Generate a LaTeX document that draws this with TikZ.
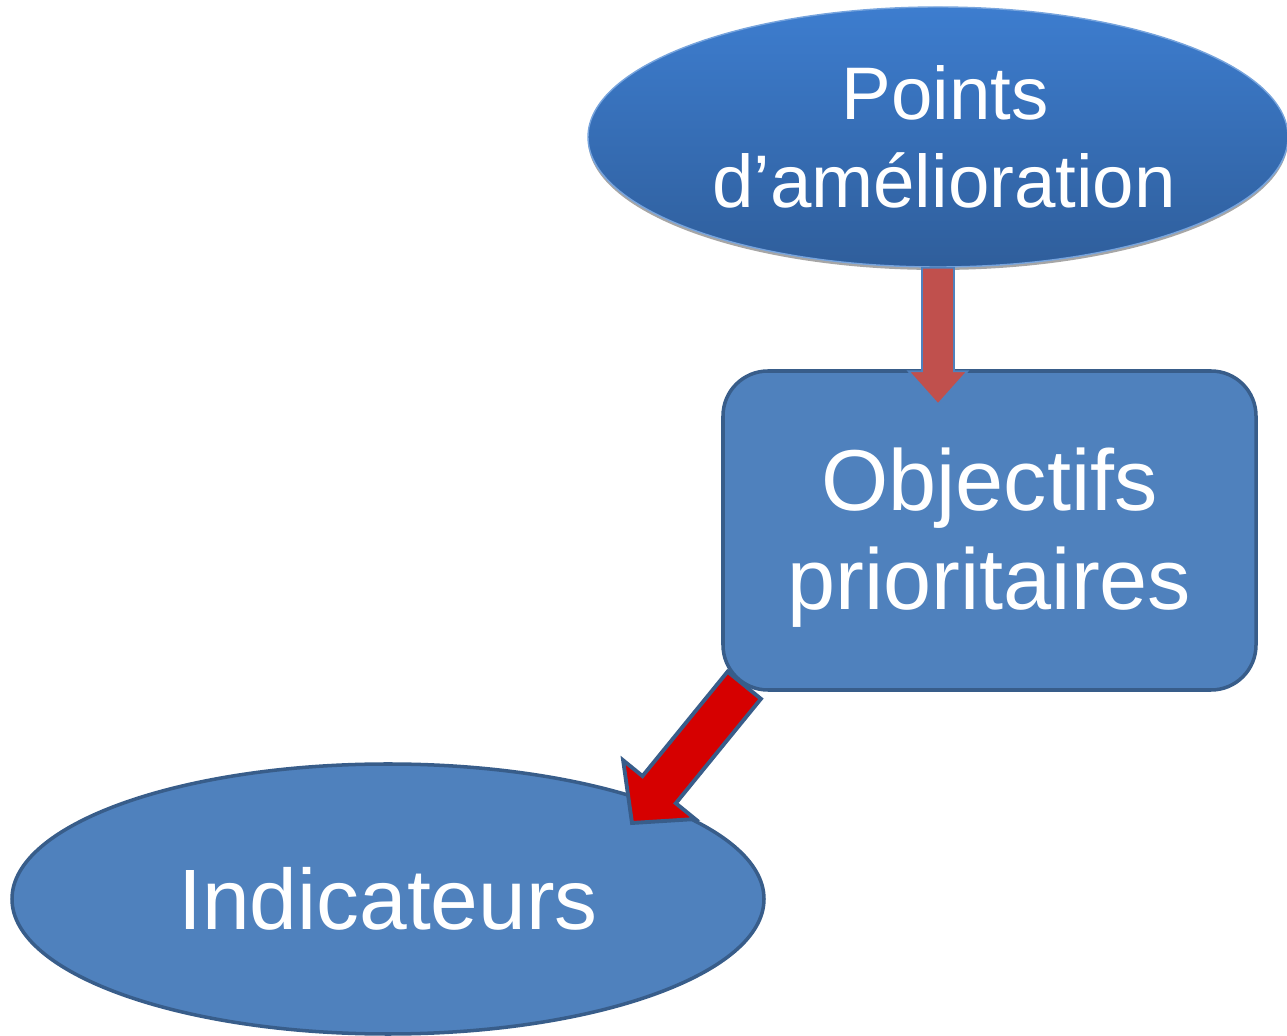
\documentclass[tikz,border=0pt]{standalone}
\usepackage{fontspec}
\setmainfont{Liberation Sans}
\usetikzlibrary{calc,shapes.geometric}

\definecolor{boxblue}{HTML}{4F81BD}
\definecolor{edgeblue}{HTML}{385D8A}
\definecolor{topblue}{HTML}{3D7DCF}
\definecolor{lowblue}{HTML}{2F5E9B}
\definecolor{arrowrose}{HTML}{C0504D}
\definecolor{arrowred}{HTML}{D60000}

% block arrow: #1 style, #2 from, #3 to, #4 half shaft, #5 half head, #6 head length
\newcommand{\blockarr}[6]{%
  \coordinate (h) at ($(#3)!#6!(#2)$);
  \draw[#1] ($(#2)!#4!90:(#3)$) -- ($(h)!#4!90:(#3)$) -- ($(h)!#5!90:(#3)$)
    -- (#3) -- ($(h)!#5!-90:(#3)$) -- ($(h)!#4!-90:(#3)$)
    -- ($(#2)!#4!-90:(#3)$) -- cycle;
}

\tikzset{
  bubble/.style={ellipse, inner sep=0pt, text=white, align=center},
  objbox/.style={rectangle, rounded corners=0.45cm, draw=edgeblue, line width=1pt,
    fill=boxblue, text=white, align=center, minimum width=5.33cm, minimum height=3.19cm}
}

\begin{document}
\begin{tikzpicture}
        \useasboundingbox (0,0) rectangle (12.87,10.36);

        \fill[gray!70] (9.38,8.96) ellipse [x radius=3.5, y radius=1.3];
        \node[bubble, top color=topblue, bottom color=lowblue, draw=topblue!70, line width=0.4pt,
          minimum width=7cm, minimum height=2.6cm, font=\fontsize{21.2}{25}\selectfont] at (9.38,8.99) (pts)
          {\hspace*{0.14cm}Points\\\hspace*{0.12cm}d’amélioration};

        \node[objbox, font=\fontsize{24.6}{28.1}\selectfont] at (9.895,5.055) (obj)
          {\rule{0pt}{22pt}Objectifs\\prioritaires};

        \node[bubble, draw=edgeblue, line width=1pt, fill=boxblue,
          minimum width=7.52cm, minimum height=2.7cm, font=\fontsize{24.4}{29}\selectfont] at (3.88,1.37) (ind)
          {Indicateurs};

        \coordinate (a1) at ($(pts.south |- obj.north)+(0,-0.35)$);
        \coordinate (b0) at ($(obj.south west)+(0.23,0.065)$);
        \coordinate (b1) at ($(ind.center)+(2.44,0.76)$);

        \blockarr{fill=arrowrose, draw=boxblue, line width=0.5pt}{pts.south}{a1}{0.16cm}{0.295cm}{0.33cm}
        \blockarr{fill=arrowred, draw=edgeblue, line width=1.1pt, line join=miter}{b0}{b1}{0.215cm}{0.465cm}{0.43cm}

    \end{tikzpicture}
\end{document}
